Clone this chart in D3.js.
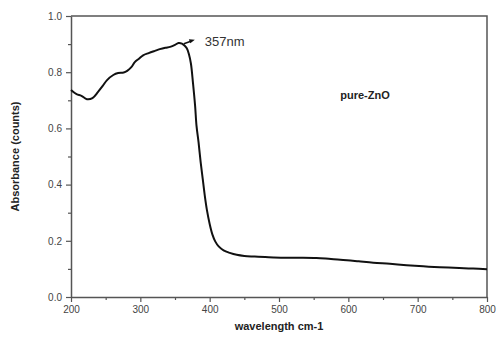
<!DOCTYPE html>
<html>
<head>
<meta charset="utf-8">
<script src="https://cdn.jsdelivr.net/npm/d3@7"></script>
<style>
  body { margin: 0; background: #fff; }
  svg text { font-family: "Liberation Sans", Arial, sans-serif; }
  .tick text { fill: #444; font-size: 10px; }
  .axis path, .axis line { stroke: #555; }
</style>
</head>
<body>
<div id="chart"></div>
<script>
// wavelength (nm) and absorbance
var wavelength = [200, 208, 215, 223, 231, 239, 246, 252, 261, 268, 276, 281, 287, 292, 298, 304, 312, 321, 328, 336, 343, 350, 355, 360, 364, 367, 370, 373, 376, 379, 381, 384, 387, 390, 393, 396, 400, 404, 408, 413, 420, 429, 439, 450, 465, 480, 492, 510, 530, 554, 575, 598, 615, 636, 660, 684, 708, 732, 760, 780, 800];
var absorbance = [0.737, 0.722, 0.716, 0.704, 0.708, 0.73, 0.752, 0.772, 0.79, 0.797, 0.799, 0.805, 0.818, 0.836, 0.848, 0.86, 0.868, 0.876, 0.882, 0.887, 0.89, 0.897, 0.904, 0.902, 0.894, 0.885, 0.865, 0.83, 0.76, 0.68, 0.61, 0.55, 0.48, 0.42, 0.36, 0.31, 0.26, 0.222, 0.198, 0.18, 0.166, 0.157, 0.15, 0.146, 0.144, 0.142, 0.141, 0.14, 0.14, 0.139, 0.135, 0.131, 0.127, 0.122, 0.118, 0.113, 0.109, 0.106, 0.103, 0.101, 0.099];

var xTicks = [200, 300, 400, 500, 600, 700, 800];
var xMinor = [250, 350, 450, 550, 650, 750];
var yTicks = [0.0, 0.2, 0.4, 0.6, 0.8, 1.0];
var yMinor = [0.1, 0.3, 0.5, 0.7, 0.9];

var peakLabel = "357nm";
var sampleLabel = "pure-ZnO";

var W = 497, H = 338;
var margin = {top: 16, right: 10, bottom: 41, left: 71};
var width = W - margin.left - margin.right;
var height = H - margin.top - margin.bottom;

var x = d3.scaleLinear().domain([200, 800]).range([0, width]);
var y = d3.scaleLinear().domain([0, 1]).range([height, 0]);

var svg = d3.select("#chart").append("svg")
    .attr("width", W)
    .attr("height", H)
  .append("g")
    .attr("transform", "translate(" + margin.left + "," + margin.top + ")");

// frame (top and right)
svg.append("path")
    .attr("d", "M0,0H" + width + "V" + height)
    .attr("fill", "none")
    .attr("stroke", "#555")
    .attr("stroke-width", 1.5);

// minor ticks
svg.append("g")
    .attr("class", "axis")
    .attr("transform", "translate(0," + height + ")")
    .call(d3.axisBottom(x).tickValues(xMinor).tickSize(3).tickFormat(""))
    .select(".domain").remove();
svg.append("g")
    .attr("class", "axis")
    .call(d3.axisLeft(y).tickValues(yMinor).tickSize(3).tickFormat(""))
    .select(".domain").remove();

// major axes
var xAxis = svg.append("g")
    .attr("class", "axis")
    .attr("transform", "translate(0," + height + ")")
    .call(d3.axisBottom(x).tickValues(xTicks).tickSize(5).tickSizeOuter(0).tickPadding(4));
var yAxis = svg.append("g")
    .attr("class", "axis")
    .call(d3.axisLeft(y).tickValues(yTicks).tickSize(5).tickSizeOuter(0).tickPadding(4).tickFormat(d3.format(".1f")));
xAxis.select(".domain").attr("stroke-width", 1.5);
yAxis.select(".domain").attr("stroke-width", 1.5);
svg.selectAll(".axis .tick line").attr("stroke-width", 1.2);

// spectrum
var line = d3.line()
    .x(function(d, i) { return x(wavelength[i]); })
    .y(function(d) { return y(d); })
    .curve(d3.curveCatmullRom);

svg.append("path")
    .datum(absorbance)
    .attr("d", line)
    .attr("fill", "none")
    .attr("stroke", "#111")
    .attr("stroke-width", 2);

// peak annotation
var px = x(357), py = y(0.905);
svg.append("line")
    .attr("x1", px + 4).attr("y1", py + 1)
    .attr("x2", px + 11).attr("y2", py - 1.5)
    .attr("stroke", "#111").attr("stroke-width", 1.5);
svg.append("path")
    .attr("d", "M" + (px + 9) + "," + (py - 3.5) + "L" + (px + 15) + "," + (py - 3) + "L" + (px + 10.5) + "," + (py + 0.5) + "Z")
    .attr("fill", "#111");
svg.append("text")
    .attr("x", x(357) + 25)
    .attr("y", py + 3)
    .attr("font-size", 13)
    .attr("fill", "#333")
    .text(peakLabel);

svg.append("text")
    .attr("x", x(624))
    .attr("y", y(0.705))
    .attr("text-anchor", "middle")
    .attr("font-size", 11)
    .attr("font-weight", "bold")
    .attr("fill", "#222")
    .text(sampleLabel);

// axis titles
svg.append("text")
    .attr("x", x(500))
    .attr("y", height + 33)
    .attr("text-anchor", "middle")
    .attr("font-size", 11)
    .attr("font-weight", "bold")
    .attr("fill", "#222")
    .text("wavelength cm-1");

svg.append("text")
    .attr("transform", "translate(" + (-52) + "," + (height / 2) + ") rotate(-90)")
    .attr("text-anchor", "middle")
    .attr("font-size", 11)
    .attr("font-weight", "bold")
    .attr("fill", "#222")
    .text("Absorbance (counts)");
</script>
</body>
</html>
